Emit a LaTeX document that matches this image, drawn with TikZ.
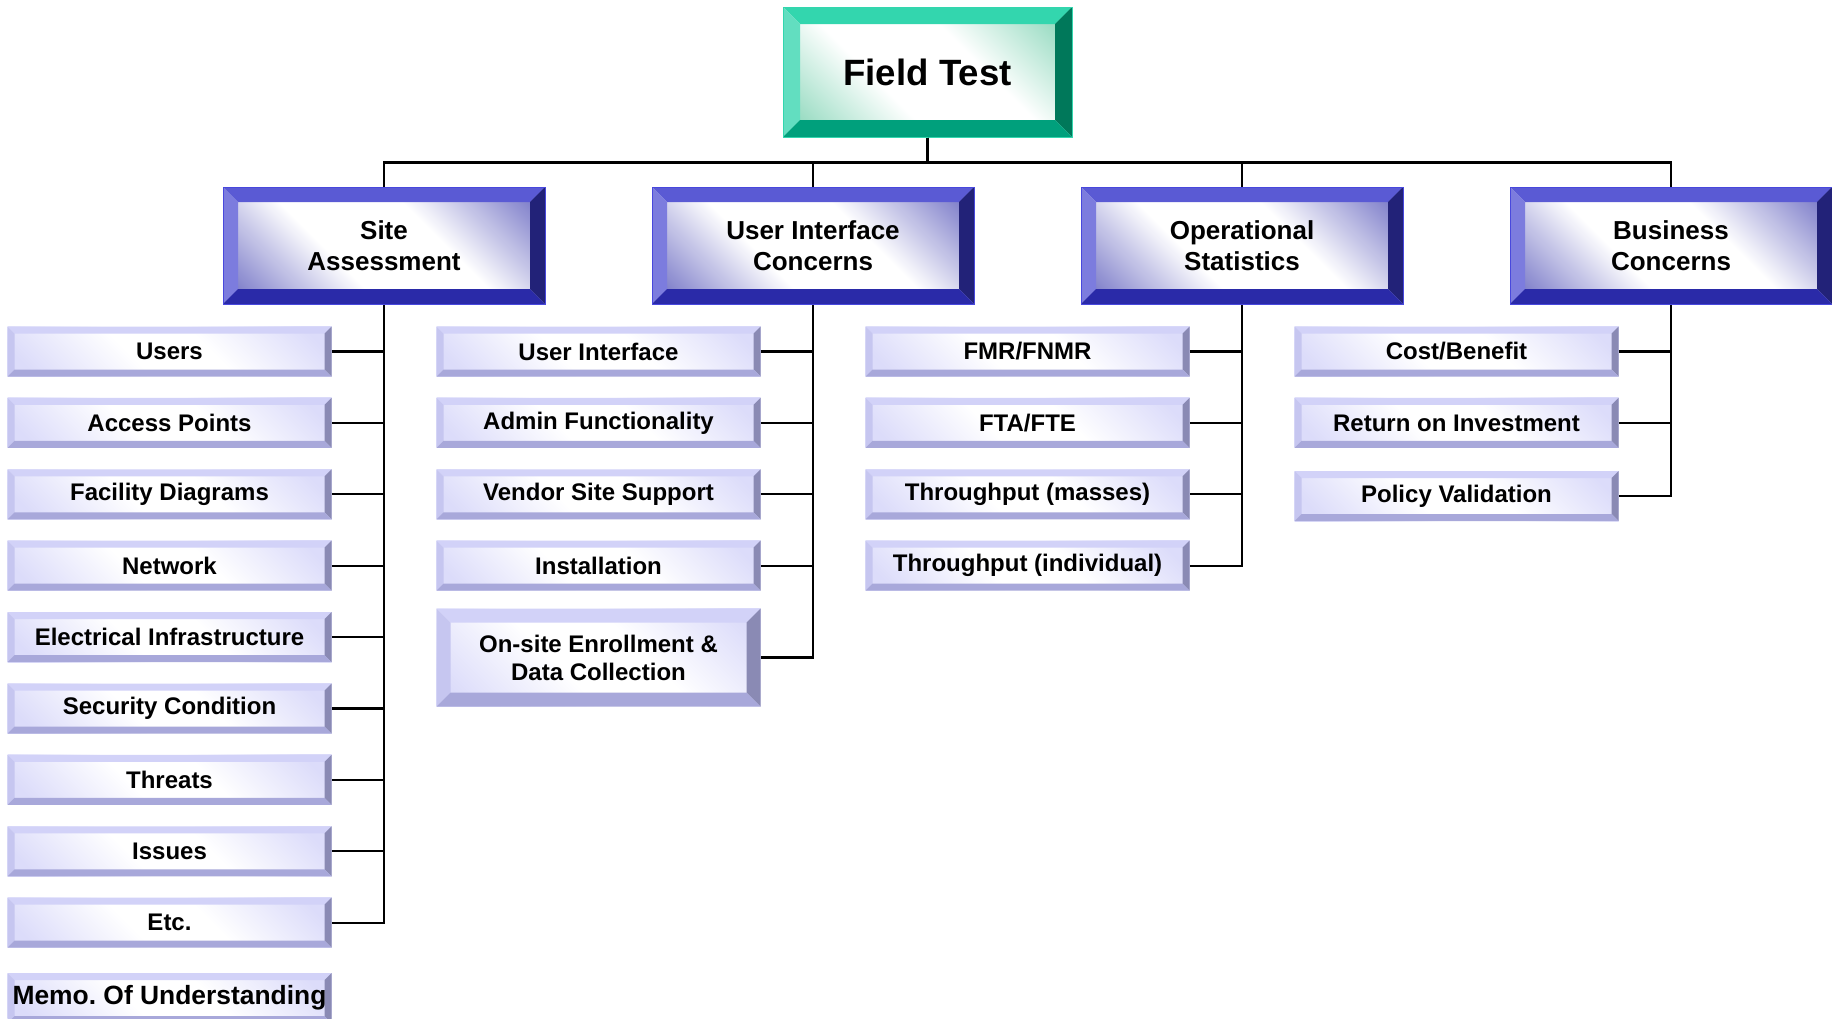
\documentclass[tikz,border=0pt]{standalone}
\usepackage{fontspec}
\setmainfont{Liberation Sans}
\usepackage{tikz}

\definecolor{gtop}{HTML}{33D6AE}
\definecolor{gleft}{HTML}{62DEC0}
\definecolor{gright}{HTML}{00785A}
\definecolor{gbot}{HTML}{00A07C}
\definecolor{gface}{HTML}{8ED8BC}
\definecolor{btop}{HTML}{5A5AD4}
\definecolor{bleft}{HTML}{7C7CDE}
\definecolor{bright}{HTML}{222278}
\definecolor{bbot}{HTML}{2A2AA8}
\definecolor{bface}{HTML}{7A7AC8}
\definecolor{ltop}{HTML}{D2D2F8}
\definecolor{lleft}{HTML}{C6C6F0}
\definecolor{lright}{HTML}{8A8AB4}
\definecolor{lbot}{HTML}{A8A8DA}
\definecolor{lface}{HTML}{DCDCFA}

\pgfdeclarehorizontalshading{greenface}{100bp}{color(0bp)=(gface); color(18bp)=(gface); color(40bp)=(white); color(60bp)=(white); color(82bp)=(gface); color(100bp)=(gface)}
\pgfdeclarehorizontalshading{blueface}{100bp}{color(0bp)=(bface); color(18bp)=(bface); color(40bp)=(white); color(60bp)=(white); color(82bp)=(bface); color(100bp)=(bface)}
\pgfdeclarehorizontalshading{leafface}{100bp}{color(0bp)=(lface); color(20bp)=(lface); color(42bp)=(white); color(58bp)=(white); color(80bp)=(lface); color(100bp)=(lface)}

% bevel: width, top, left, right, bottom
\newcommand{\bevel}[5]{%
  \coordinate (bl) at (path picture bounding box.south west);
  \coordinate (tr) at (path picture bounding box.north east);
  \coordinate (tl) at (path picture bounding box.north west);
  \coordinate (br) at (path picture bounding box.south east);
  \fill[#2] (tl) -- (tr) -- ([shift={(-#1,-#1)}]tr) -- ([shift={(#1,-#1)}]tl) -- cycle;
  \fill[#3] (tl) -- (bl) -- ([shift={(#1,#1)}]bl) -- ([shift={(#1,-#1)}]tl) -- cycle;
  \fill[#4] (tr) -- (br) -- ([shift={(-#1,#1)}]br) -- ([shift={(-#1,-#1)}]tr) -- cycle;
  \fill[#5] (bl) -- (br) -- ([shift={(-#1,#1)}]br) -- ([shift={(#1,#1)}]bl) -- cycle;
}

\begin{document}
\begin{tikzpicture}[x=0.5pt,y=-0.5pt,
  topbox/.style={minimum width=144.5pt, minimum height=65pt, inner sep=0pt,
    shading=greenface, shading angle=45, draw=gtop, line width=0.5pt,
    font=\bfseries\fontsize{18.3}{22}\selectfont,
    path picture={\bevel{8.5pt}{gtop}{gleft}{gright}{gbot}}},
  catbox/.style={minimum width=161pt, minimum height=58.5pt, inner sep=0pt,
    shading=blueface, shading angle=45, draw=btop!80!blue, line width=0.5pt,
    align=center, font=\bfseries\fontsize{13}{15.4}\selectfont,
    path picture={\bevel{7.5pt}{btop}{bleft}{bright}{bbot}}},
  leafbox/.style={minimum width=162pt, minimum height=25pt, inner sep=0pt,
    shading=leafface, shading angle=45,
    align=center, font=\bfseries\fontsize{12}{14}\selectfont,
    path picture={\bevel{3.5pt}{ltop}{lleft}{lright}{lbot}}},
  bigleaf/.style={leafbox, minimum height=49pt,
    path picture={\bevel{7pt}{ltop}{lleft}{lright}{lbot}}},
  link/.style={line width=1.1pt, black}]

  \path[use as bounding box, clip] (0,0) rectangle (1832,1018);

  \node[topbox] (field) at (927.5,72) {Field Test}; %TOP

  \node[catbox] (site) at (384,245.5) {Site\\Assessment};
  \node[catbox] (ui) at (813,245.5) {User Interface\\Concerns};
  \node[catbox] (ops) at (1242,245.5) {Operational\\Statistics};
  \node[catbox] (biz) at (1671,245.5) {Business\\Concerns};

  \draw[link] (field.south) -- ++(0,25) -| (site.north);
  \draw[link] (field.south) -- ++(0,25) -| (ui.north);
  \draw[link] (field.south) -- ++(0,25) -| (ops.north);
  \draw[link] (field.south) -- ++(0,25) -| (biz.north);

  % SITE
  \node[leafbox] (users) at (169.5,351.5) {Users};
  \node[leafbox] (access) at (169.5,422.9) {Access Points};
  \node[leafbox] (facility) at (169.5,494.3) {Facility Diagrams};
  \node[leafbox] (network) at (169.5,565.7) {Network};
  \node[leafbox] (electric) at (169.5,637.1) {Electrical Infrastructure};
  \node[leafbox] (security) at (169.5,708.5) {Security Condition};
  \node[leafbox] (threats) at (169.5,779.9) {Threats};
  \node[leafbox] (issues) at (169.5,851.3) {Issues};
  \node[leafbox] (etc) at (169.5,922.7) {Etc.};
  \node[leafbox, font=\bfseries\fontsize{13.2}{15}\selectfont] (memo) at (169.5,998) {Memo.\ Of Understanding};

  \draw[link] (users.east) -| (site.south);
  \draw[link] (access.east) -| (site.south);
  \draw[link] (facility.east) -| (site.south);
  \draw[link] (network.east) -| (site.south);
  \draw[link] (electric.east) -| (site.south);
  \draw[link] (security.east) -| (site.south);
  \draw[link] (threats.east) -| (site.south);
  \draw[link] (issues.east) -| (site.south);
  \draw[link] (etc.east) -| (site.south);

  % USER INTERFACE
  \node[leafbox] (uiface) at (598.5,351.5) {User Interface};
  \node[leafbox] (admin) at (598.5,422.9) {Admin Functionality};
  \node[leafbox] (vendor) at (598.5,494.3) {Vendor Site Support};
  \node[leafbox] (install) at (598.5,565.7) {Installation};
  \node[bigleaf] (enroll) at (598.5,657.5) {On-site Enrollment \&\\Data Collection};

  \draw[link] (uiface.east) -| (ui.south);
  \draw[link] (admin.east) -| (ui.south);
  \draw[link] (vendor.east) -| (ui.south);
  \draw[link] (install.east) -| (ui.south);
  \draw[link] (enroll.east) -| (ui.south);

  % OPERATIONAL
  \node[leafbox] (fmr) at (1027.5,351.5) {FMR/FNMR};
  \node[leafbox] (fta) at (1027.5,422.9) {FTA/FTE};
  \node[leafbox] (masses) at (1027.5,494.3) {Throughput (masses)};
  \node[leafbox] (single) at (1027.5,565.7) {Throughput (individual)};

  \draw[link] (fmr.east) -| (ops.south);
  \draw[link] (fta.east) -| (ops.south);
  \draw[link] (masses.east) -| (ops.south);
  \draw[link] (single.east) -| (ops.south);

  % BUSINESS
  \node[leafbox] (cost) at (1456.5,351.5) {Cost/Benefit};
  \node[leafbox] (roi) at (1456.5,422.9) {Return on Investment};
  \node[leafbox] (policy) at (1456.5,496) {Policy Validation};

  \draw[link] (cost.east) -| (biz.south);
  \draw[link] (roi.east) -| (biz.south);
  \draw[link] (policy.east) -| (biz.south);

\end{tikzpicture}
\end{document}
